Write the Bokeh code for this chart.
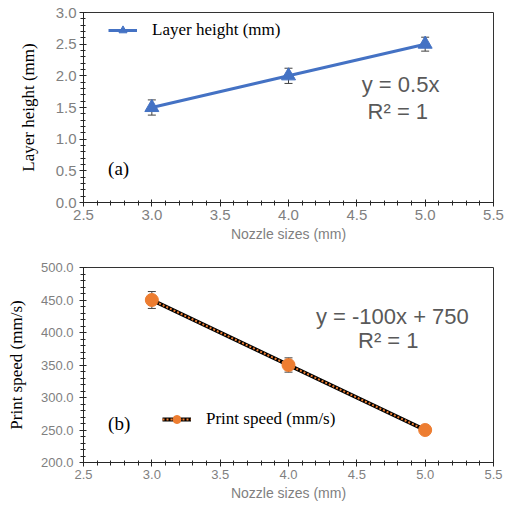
from bokeh.plotting import figure
from bokeh.layouts import column
from bokeh.models import (ColumnDataSource, Whisker, TeeHead, Label, Legend, LegendItem,
                          NumeralTickFormatter, SingleIntervalTicker, Range1d)
from bokeh.embed import file_html
from bokeh.resources import INLINE

# ---- data ----
nozzle = [3.0, 4.0, 5.0]
layer_height = [1.5, 2.0, 2.5]
layer_err = [0.12, 0.12, 0.11]
print_speed = [450.0, 350.0, 250.0]
speed_err = [13.0, 11.0, 3.0]

x_range_vals = (2.5, 5.5)
ya_range_vals = (0.0, 3.0)
yb_range_vals = (200.0, 500.0)

BLUE = "#4472C4"
ORANGE = "#ED7D31"
GREY = "#7F7F7F"
EQ = "#595959"
AXC = "#262626"
SANS = "Liberation Sans"
SERIF = "Liberation Serif"


def style(p, xint, yint, tick_size, ylab_standoff, ytick_standoff):
    p.xgrid.visible = False
    p.ygrid.visible = False
    p.outline_line_color = "#333333"
    p.outline_line_width = 1
    p.xaxis.ticker = SingleIntervalTicker(interval=xint, num_minor_ticks=5)
    p.yaxis.ticker = SingleIntervalTicker(interval=yint, num_minor_ticks=5)
    p.xaxis.formatter = NumeralTickFormatter(format="0.0")
    p.yaxis.formatter = NumeralTickFormatter(format="0.0")
    for ax in (p.xaxis[0], p.yaxis[0]):
        ax.axis_line_color = AXC
        ax.major_tick_line_color = AXC
        ax.minor_tick_line_color = AXC
        ax.major_tick_in = 3
        ax.major_tick_out = 4
        ax.minor_tick_in = 2
        ax.minor_tick_out = 3
        ax.major_label_text_color = GREY
        ax.major_label_text_font = SANS
        ax.major_label_text_font_size = tick_size
    p.xaxis.major_label_standoff = 3
    p.yaxis.major_label_standoff = ytick_standoff
    p.xaxis.axis_label = "Nozzle sizes (mm)"
    p.xaxis.axis_label_text_font = SANS
    p.xaxis.axis_label_text_font_style = "normal"
    p.xaxis.axis_label_text_font_size = "14px"
    p.xaxis.axis_label_text_color = GREY
    p.xaxis.axis_label_standoff = 3
    p.yaxis.axis_label_text_font = SERIF
    p.yaxis.axis_label_text_font_style = "normal"
    p.yaxis.axis_label_text_font_size = "17px"
    p.yaxis.axis_label_text_color = "black"
    p.yaxis.axis_label_standoff = ylab_standoff


# ---- top chart (a) ----
pa = figure(width=505, height=250, output_backend="svg", toolbar_location=None,
            x_range=Range1d(*x_range_vals), y_range=Range1d(*ya_range_vals),
            min_border_left=83, min_border_right=12, min_border_top=12, min_border_bottom=48)
style(pa, 0.5, 0.5, "15px", 15, 3)
pa.yaxis.axis_label = "Layer height (mm)"

src_a = ColumnDataSource(dict(x=nozzle, y=layer_height,
                              lo=[v - e for v, e in zip(layer_height, layer_err)],
                              hi=[v + e for v, e in zip(layer_height, layer_err)]))
la = pa.line("x", "y", source=src_a, line_color=BLUE, line_width=3)
wa = Whisker(source=src_a, base="x", upper="hi", lower="lo", dimension="height",
             line_color="#404040", line_width=1,
             upper_head=TeeHead(size=8, line_color="#404040", line_width=1),
             lower_head=TeeHead(size=8, line_color="#404040", line_width=1))
pa.add_layout(wa)
ma = pa.scatter("x", "y", source=src_a, marker="triangle", size=14,
                fill_color=BLUE, line_color=BLUE)

leg_a = Legend(items=[LegendItem(label="Layer height (mm)", renderers=[la, ma])],
               location=(25, 162), padding=0, margin=0, border_line_color=None,
               background_fill_alpha=0, glyph_width=29, glyph_height=20,
               label_standoff=15, label_text_font=SERIF, label_text_font_size="17px",
               label_text_color="black")
pa.add_layout(leg_a)

pa.add_layout(Label(x=4.82, y=1.86, text="y = 0.5x", text_align="center",
                    text_baseline="middle", text_font=SANS, text_font_size="22px",
                    text_color=EQ))
pa.add_layout(Label(x=4.80, y=1.43, text="R² = 1", text_align="center",
                    text_baseline="middle", text_font=SANS, text_font_size="22px",
                    text_color=EQ))
pa.add_layout(Label(x=2.68, y=0.54, text="(a)", text_align="left",
                    text_baseline="middle", text_font=SERIF, text_font_size="19px",
                    text_color="black"))

# ---- bottom chart (b) ----
pb = figure(width=505, height=255, output_backend="svg", toolbar_location=None,
            x_range=Range1d(*x_range_vals), y_range=Range1d(*yb_range_vals),
            min_border_left=83, min_border_right=12, min_border_top=17, min_border_bottom=43)
style(pb, 0.5, 50, "13px", 12, 6)
pb.yaxis.axis_label = "Print speed (mm/s)"

src_b = ColumnDataSource(dict(x=nozzle, y=print_speed,
                              lo=[v - e for v, e in zip(print_speed, speed_err)],
                              hi=[v + e for v, e in zip(print_speed, speed_err)]))
lb1 = pb.line("x", "y", source=src_b, line_color="black", line_width=4)
lb2 = pb.line("x", "y", source=src_b, line_color=ORANGE, line_width=2, line_dash="2 2")
wb = Whisker(source=src_b, base="x", upper="hi", lower="lo", dimension="height",
             line_color="#404040", line_width=1,
             upper_head=TeeHead(size=8, line_color="#404040", line_width=1),
             lower_head=TeeHead(size=8, line_color="#404040", line_width=1))
pb.add_layout(wb)
mb = pb.scatter("x", "y", source=src_b, marker="circle", size=13,
                fill_color=ORANGE, line_color=ORANGE)

leg_b = Legend(items=[LegendItem(label="Print speed (mm/s)", renderers=[lb1, lb2, mb])],
               location=(79, 33), padding=0, margin=0, border_line_color=None,
               background_fill_alpha=0, glyph_width=29, glyph_height=20,
               label_standoff=15, label_text_font=SERIF, label_text_font_size="17px",
               label_text_color="black")
pb.add_layout(leg_b)

pb.add_layout(Label(x=4.76, y=424, text="y = -100x + 750", text_align="center",
                    text_baseline="middle", text_font=SANS, text_font_size="22px",
                    text_color=EQ))
pb.add_layout(Label(x=4.73, y=387, text="R² = 1", text_align="center",
                    text_baseline="middle", text_font=SANS, text_font_size="22px",
                    text_color=EQ))
pb.add_layout(Label(x=2.68, y=260, text="(b)", text_align="left",
                    text_baseline="middle", text_font=SERIF, text_font_size="19px",
                    text_color="black"))

layout = column(pa, pb, spacing=0)
open("out.html", "w").write(file_html(layout, INLINE))
